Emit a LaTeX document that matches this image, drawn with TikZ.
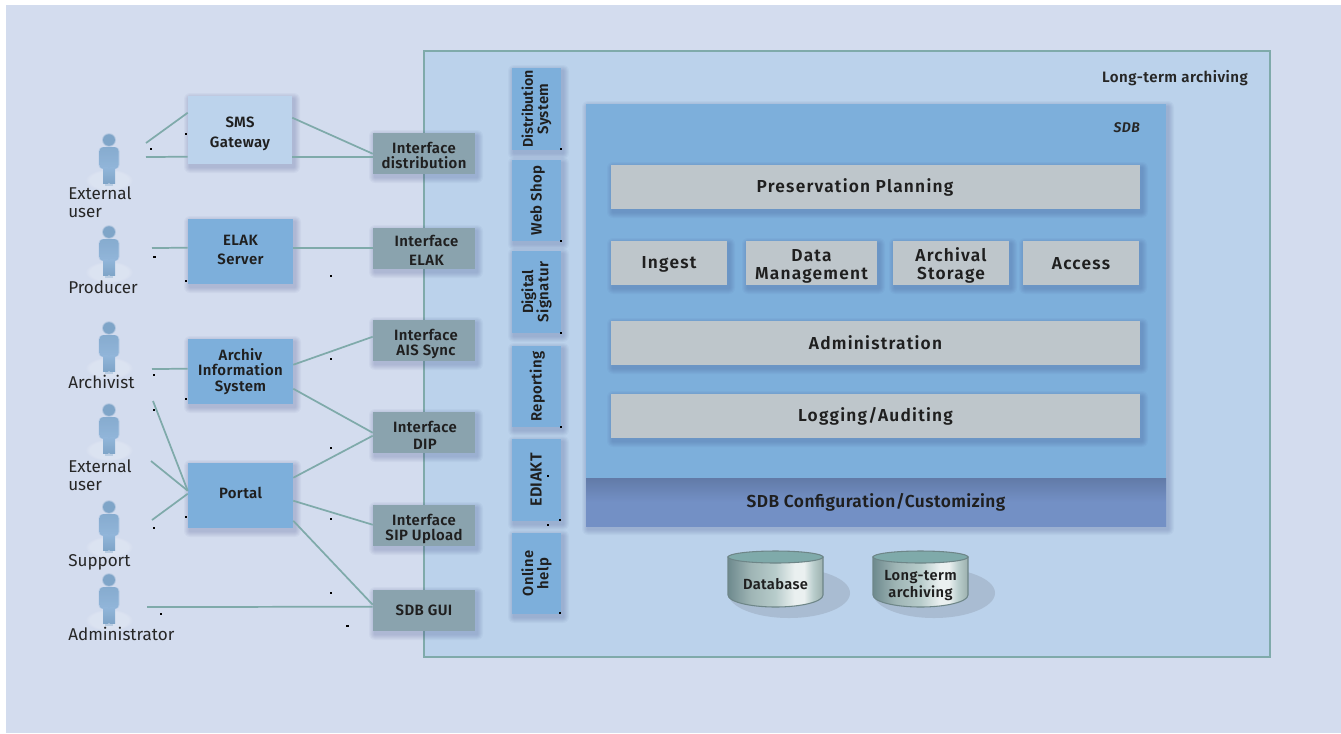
\documentclass[tikz,border=0pt]{standalone}
\usepackage{fontspec}
\setmainfont{Fira Sans}
\newfontfamily\boxf{Fira Sans SemiBold}[LetterSpace=2.5]
\newfontfamily\vertf{Fira Sans SemiBold}
\newfontfamily\barf{Fira Sans SemiBold}[LetterSpace=7]
\newfontfamily\ltaf{Fira Sans SemiBold}[LetterSpace=3]
\newfontfamily\sdbf{Fira Sans SemiBold Italic}[LetterSpace=3]
\usetikzlibrary{calc,fadings}
\newlength\pxl \setlength\pxl{0.75pt}
\newcommand{\mlz}{\rule{0pt}{13.5pt}}
\definecolor{bgc}{HTML}{D3DCEE}
\definecolor{innerc}{HTML}{BBD2EB}
\definecolor{boxc}{HTML}{7DAFDB}
\definecolor{lboxc}{HTML}{BCD3EC}
\definecolor{slatec}{HTML}{8AA3AE}
\definecolor{barc}{HTML}{BEC6CB}
\definecolor{cfgc}{HTML}{7390C5}
\definecolor{linec}{HTML}{7FAAAA}
\definecolor{shc}{HTML}{33407F}
\definecolor{personc}{HTML}{7FA5C8}
\definecolor{persond}{HTML}{92B6DA}
\definecolor{cylshc}{HTML}{A9BCD2}
\definecolor{cyledge}{HTML}{6E8688}
\definecolor{cyla}{HTML}{6E8A8E}
\definecolor{cylb}{HTML}{9FB5B5}
\definecolor{cylc}{HTML}{B8CCCB}
\definecolor{cyld}{HTML}{EAF0F0}
\definecolor{cyle}{HTML}{9CB0AE}
\pgfdeclarehorizontalshading{cylshade}{100bp}{
 color(0bp)=(cyla); color(25bp)=(cyla); color(37bp)=(cylb); color(50bp)=(cylc);
 color(60bp)=(cyld); color(65bp)=(cyld); color(70bp)=(cylc); color(75bp)=(cyle); color(100bp)=(cyle)}
\tikzset{
 x=0.75pt,y=-0.75pt,
 capcenter/.style={execute at begin node={\rule{0pt}{#1}},execute at end node={\rule[-2.5pt]{0pt}{0pt}}},
 basebox/.style={inner sep=0pt,align=center,text=black!88,font=\fontsize{11.2}{11.5}\boxf,capcenter=10.3pt},
 bluebox/.style={basebox,fill=boxc},
 lightbox/.style={basebox,fill=lboxc},
 slatebox/.style={basebox,fill=slatec},
 vertbox/.style={basebox,fill=boxc},
 barbox/.style={basebox,fill=barc,font=\fontsize{13}{13.5}\barf,capcenter=11.5pt},
 cfgbox/.style={basebox,top color=cfgc!85!black,bottom color=cfgc,middle color=cfgc,font=\fontsize{13}{14}\boxf,capcenter=11.5pt},
 sdbbox/.style={basebox,fill=boxc},
 conn/.style={draw=linec,line width=1.3pt},
 personlabel/.style={inner sep=0pt,anchor=base west,text=black!85,font=\fontsize{12.8}{13}\selectfont},
 speck/.style={fill=black,inner sep=0pt,minimum width=2\pxl,minimum height=1.2\pxl},
 cyllabel/.style={basebox,font=\fontsize{11}{12.5}\boxf},
 shadowlayer/.style={fill=shc,opacity=.04},
 cylbody/.style={draw=cyledge,line width=0.8pt,shading=cylshade},
 cyltop/.style={draw=cyledge,line width=0.8pt,fill=linec},
 cylshadow/.style={fill=cylshc},
}
\newcommand{\softsh}[4]{%
 \foreach \kk in {6,5,4,3,2,1}{%
  \fill[shadowlayer,rounded corners=\kk\pxl] ({#1+2-\kk},{#2+3-\kk}) rectangle ({#3+2+\kk},{#4+3+\kk});}}
\newcommand{\bx}[7]{%
 \pgfmathsetmacro{\bw}{#4-#2}\pgfmathsetmacro{\bh}{#5-#3}%
 \pgfmathsetmacro{\bcx}{(#2+#4)/2}\pgfmathsetmacro{\bcy}{(#3+#5)/2}%
 \node[#6,minimum width=\bw\pxl,minimum height=\bh\pxl] (#1) at (\bcx,\bcy) {#7};}
\newcommand{\sbx}[7]{\softsh{#2}{#3}{#4}{#5}\bx{#1}{#2}{#3}{#4}{#5}{#6}{#7}}
\newcommand{\vbx}[6]{%
 \softsh{#2}{#3}{#4}{#5}%
 \pgfmathsetmacro{\bw}{#4-#2}\pgfmathsetmacro{\bh}{#5-#3}%
 \pgfmathsetmacro{\bcx}{(#2+#4)/2}\pgfmathsetmacro{\bcy}{(#3+#5)/2}%
 \node[vertbox,minimum width=\bh\pxl,minimum height=\bw\pxl,rotate=90] (#1) at (\bcx,\bcy) {#6};}
\newcommand{\person}[2]{%
 \begin{scope}[shift={(109,#2)}]
  \fill[white,opacity=.2,path fading=circle with fuzzy edge 20 percent] (0,46) ellipse (24 and 11);
  \fill[personc,opacity=.35] (-4,47) rectangle (4,52);
  \fill[personc] (0,6) ellipse (6 and 5.8);
  \fill[personc,opacity=.35] (0,6) ellipse (7 and 6.8);
  \shade[top color=personc,bottom color=persond,rounded corners=3pt] (-9.5,13) rectangle (9.5,35);
  \fill[persond,opacity=.4,rounded corners=3pt] (-10.5,13) rectangle (10.5,35);
  \shade[top color=persond,bottom color=personc] (-6,33) rectangle (-0.6,49);
  \shade[top color=persond,bottom color=personc] (0.6,33) rectangle (6,49);
  \coordinate (#1) at (0,26);
 \end{scope}}
\newcommand{\cyl}[4]{% name, left x, text y, text
 \fill[cylshadow] ({#2+61},593) ellipse (61 and 25);
 \path[cylbody] (#2,557) -- (#2,595) arc[start angle=180,end angle=0,x radius=47.5,y radius=12] -- ({#2+95},557) -- cycle;
 \path[cyltop] ({#2+47.5},557) ellipse (47.5 and 6);
 \node[cyllabel] (#1) at ({#2+47.5},#3) {#4};}
\begin{document}
\begin{tikzpicture}
\useasboundingbox (0,0) rectangle (1341,733);
\fill[white] (0,0) rectangle (1341,733);
\fill[bgc] (6,5) rectangle (1341,733);
\draw[draw=linec,fill=innerc,line width=1.5pt] (424,51) rectangle (1270,657);
\node[inner sep=0pt,anchor=base east,text=black!85,font=\fontsize{11.3}{12}\ltaf] (lta) at (1248,82) {Long-term archiving};

\person{p1}{134}\person{p2}{226}\person{p3}{322}\person{p4}{404}\person{p5}{501}\person{p6}{574}
\node[personlabel] (l1a) at (68,199) {External};
\node[personlabel] (l1b) at (68,217) {user};
\node[personlabel] (l2) at (68,293) {Producer};
\node[personlabel] (l3) at (68,388) {Archivist};
\node[personlabel] (l4a) at (68,472) {External};
\node[personlabel] (l4b) at (68,490) {user};
\node[personlabel] (l5) at (68,566) {Support};
\node[personlabel] (l6) at (68,640) {Administrator};

\sbx{sms}{188}{96}{292}{164}{lightbox}{\mlz SMS\\[3pt]Gateway}
\sbx{elak}{188}{219}{293}{284}{bluebox}{ELAK\\[3pt]Server}
\sbx{ais}{188}{339}{293}{404}{bluebox}{Archiv\\Information\\System}
\sbx{portal}{188}{463}{293}{528}{bluebox}{\raisebox{1.5pt}{Portal}}
\sbx{idist}{373}{133}{475}{174}{slatebox}{\mlz Interface\\distribution}
\sbx{ielak}{373}{228}{475}{269}{slatebox}{\mlz\hspace*{5\pxl}Interface\\[3pt]\hspace*{5\pxl}ELAK}
\sbx{iais}{373}{320}{475}{361}{slatebox}{\mlz\hspace*{4\pxl}Interface\\\hspace*{4\pxl}AIS Sync}
\sbx{idip}{373}{412}{475}{453}{slatebox}{\rule{0pt}{15pt}\hspace*{2\pxl}Interface\\[1.5pt]\hspace*{2\pxl}DIP}
\sbx{isip}{373}{505}{475}{546}{slatebox}{\mlz Interface\\SIP Upload}
\sbx{igui}{373}{590}{475}{631}{slatebox}{SDB GUI}

\vbx{vdist}{512}{68}{561}{150}{\fontsize{10.6}{12.5}\vertf Distribution\\System}
\vbx{vweb}{512}{160}{561}{241}{Web Shop}
\vbx{vdig}{512}{251}{561}{333}{\fontsize{11}{12.5}\vertf Digital\\Signatur}
\vbx{vrep}{512}{346}{561}{427}{Reporting}
\vbx{vedi}{512}{439}{561}{521}{\fontsize{12}{12.5}\boxf EDIAKT}
\vbx{vhelp}{512}{533}{561}{614}{\fontsize{11}{12.5}\boxf Online\\help}

\softsh{586}{104}{1166}{526}
\bx{sdb}{586}{104}{1166}{478}{sdbbox}{}
\node[inner sep=0pt,anchor=base east,text=black!85,font=\fontsize{10.5}{12}\sdbf] (sdbl) at (1140,132) {SDB};
\bx{cfg}{586}{478}{1166}{526}{cfgbox}{SDB Configuration/Customizing}
\sbx{pres}{611}{165}{1140}{209}{barbox}{\hspace*{-41\pxl}Preservation Planning}
\sbx{ing}{611}{241}{727}{285}{barbox}{Ingest}
\sbx{dat}{746}{241}{877}{285}{barbox}{\rule{0pt}{14.5pt}Data\\Management}
\sbx{arc}{893}{241}{1009}{285}{barbox}{\rule{0pt}{14.5pt}Archival\\Storage}
\sbx{acc}{1023}{241}{1139}{285}{barbox}{Access}
\sbx{adm}{611}{321}{1140}{365}{barbox}{Administration}
\sbx{log}{611}{394}{1140}{438}{barbox}{Logging/Auditing}

\cyl{db}{728}{584.5}{Database}
\cyl{lt}{873}{585.5}{Long-term\\archiving}

\coordinate (c1a) at (146,143);\coordinate (c1b) at (146,157);
\coordinate (c2) at (152,248);\coordinate (c3) at (152,369);
\coordinate (c3b) at (153,401);\coordinate (c4) at (151,461);
\coordinate (c5) at (152,520);\coordinate (c6) at (147,607);
\draw[conn] (c1a) -- ($(sms.north west)+(0,17)$);
\draw[conn] (c1b) -- ($(sms.north west)+(0,61)$);
\draw[conn] ($(sms.north east)+(0,22)$) -- ($(idist.north west)+(0,21)$);
\draw[conn] ($(sms.north east)+(0,61)$) -- ($(idist.north west)+(0,24)$);
\draw[conn] (c2) -- ($(elak.north west)+(0,29)$);
\draw[conn] ($(elak.north east)+(0,29)$) -- ($(ielak.north west)+(0,20)$);
\draw[conn] (c3) -- ($(ais.north west)+(0,30)$);
\draw[conn] ($(ais.north east)+(0,26)$) -- ($(iais.north west)+(0,17)$);
\draw[conn] ($(ais.north east)+(0,50)$) -- ($(idip.north west)+(0,21)$);
\draw[conn] ($(portal.north east)+(0,15)$) -- ($(idip.north west)+(0,24)$);
\draw[conn] ($(portal.north east)+(0,38)$) -- ($(isip.north west)+(0,20)$);
\draw[conn] ($(portal.north east)+(0,58)$) -- ($(igui.north west)+(0,15)$);
\draw[conn] (c6) -- ($(igui.north west)+(0,17)$);
\draw[conn] (c3b) -- ($(portal.north west)+(0,28)$);
\draw[conn] (c4) -- ($(portal.north west)+(0,28)$);
\draw[conn] (c5) -- ($(portal.north west)+(0,31)$);

\foreach \i/\sx/\sy in {a/151/149,b/186/134,d/186/281,e/331/276,f/154/375,g/331/359,h/154/410,i/186/399,j/331/448,k/186/517,l/154/528,m/331/519,n/331/593,o/161/614,q/561/149,r/561/333,s/561/427,t/548/476,u/548/525,v/560/520,w/560/613,x/561/241}
 \node[speck] (sp\i) at (\sx,\sy) {};
\node[speck,minimum width=3\pxl,minimum height=2\pxl] (spc) at (154,257) {};
\node[speck,minimum width=3\pxl,minimum height=2\pxl] (spp) at (347,626) {};
\end{tikzpicture}
\end{document}
